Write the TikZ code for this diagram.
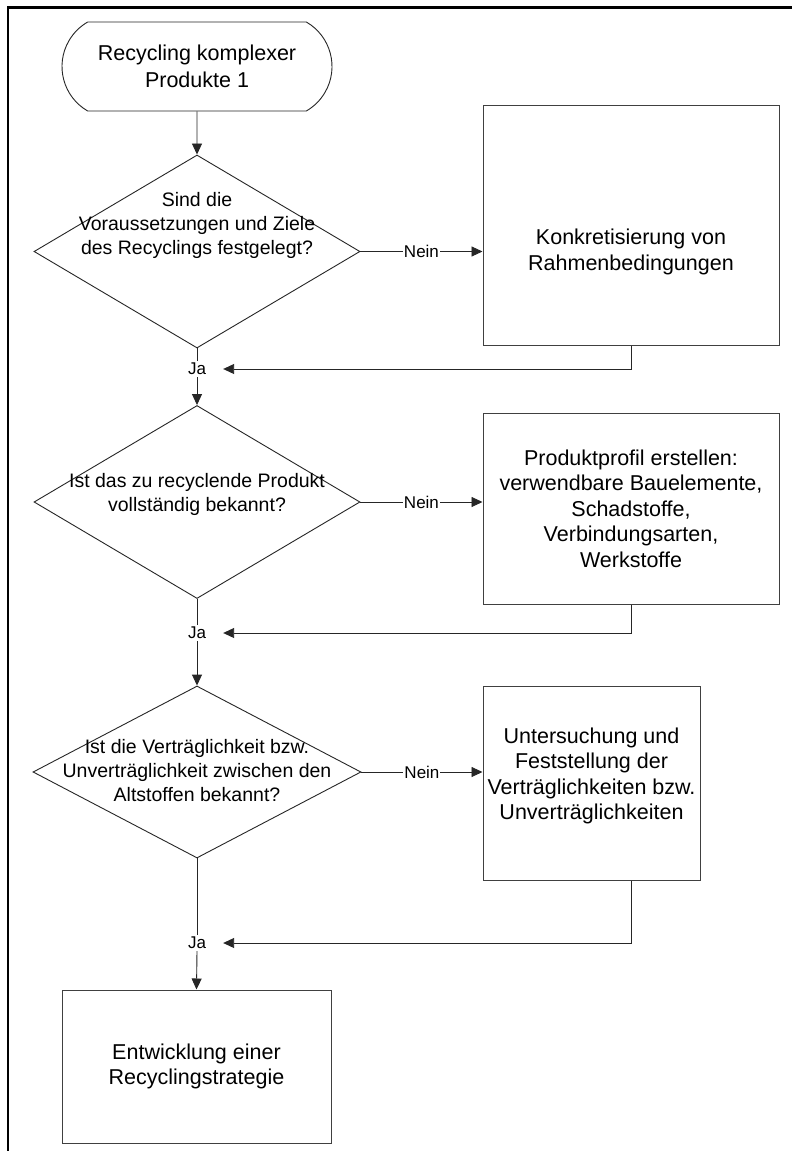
\documentclass[tikz,border=0pt]{standalone}
\usepackage{fontspec}
\setmainfont{Liberation Sans}
\usetikzlibrary{shapes.geometric,shapes.misc,arrows.meta}
\begin{document}
\begin{tikzpicture}[x=1pt,y=-1pt,
  line/.style={draw=black!85, line width=0.9pt},
  arr/.style={line, -{Triangle[length=11pt,width=10pt]}},
  box/.style={draw=black!75, line width=1pt, align=center, inner sep=0pt,
    font=\fontsize{21.5}{25.5}\selectfont},
  boxtext/.style={align=center, inner sep=0pt, font=\fontsize{21.5}{25.5}\selectfont},
  dia/.style={diamond, draw=black!85, line width=0.9pt, inner sep=0pt},
  diatext/.style={align=center, inner sep=0pt, font=\fontsize{19.5}{24}\selectfont},
  lab/.style={font=\fontsize{17}{20}\selectfont, fill=white, inner sep=1pt},
  ja/.style={font=\fontsize{17}{20}\selectfont, inner xsep=17pt, inner ysep=2pt}]
\useasboundingbox (0,0) rectangle (792,1151);
\fill[white] (0,0) rectangle (792,1151);
% frame
\draw[line width=2.4pt, black] (8,1151) -- (8,7.3) -- (792,7.3);

% terminal
\node[rounded rectangle, rounded rectangle arc length=120, draw=black!85, line width=0.9pt,
  minimum width=270pt, minimum height=89pt, align=center, inner sep=0pt,
  font=\fontsize{21.5}{27}\selectfont] (start) at (197,66.5) {Recycling komplexer\\Produkte 1};

% diamonds
\node[dia, minimum width=326pt, minimum height=193pt] (d1) at (197,251.5) {};
\node[diatext] (d1t) at (197,225) {Sind die\\Voraussetzungen und Ziele\\des Recyclings festgelegt?};

\node[dia, minimum width=326pt, minimum height=193pt] (d2) at (197,502) {};
\node[diatext] (d2t) at (197,494) {Ist das zu recyclende Produkt\\vollständig bekannt?};

\node[dia, minimum width=328pt, minimum height=172pt] (d3) at (197,772) {};
\node[diatext] (d3t) at (197,771) {Ist die Verträglichkeit bzw.\\Unverträglichkeit zwischen den\\Altstoffen bekannt?};

% boxes
\node[box, minimum width=296pt, minimum height=240pt] (b1) at (631,225) {};
\node[boxtext] (b1t) at (631,252) {Konkretisierung von\\Rahmenbedingungen};
\node[box, minimum width=296pt, minimum height=191pt] (b2) at (631,508.5) {Produktprofil erstellen:\\verwendbare Bauelemente,\\Schadstoffe,\\Verbindungsarten,\\Werkstoffe};
\node[box, minimum width=217pt, minimum height=194pt] (b3) at (591.5,783) {};
\node[boxtext] (b3t) at (591.5,776) {Untersuchung und\\Feststellung der\\Verträglichkeiten bzw.\\Unverträglichkeiten};
\node[box, minimum width=269pt, minimum height=153pt] (b4) at (196.5,1066.5) {Entwicklung einer\\Recyclingstrategie};

% Ja labels
\node[ja] (ja1) at (197,369) {Ja};
\node[ja] (ja2) at (197,633) {Ja};
\node[ja] (ja3) at (197,943) {Ja};

% connectors
\draw[arr] (start) -- (d1);
\draw[arr] (d1.east) -- node[lab]{Nein} (b1.west |- d1.east);
\draw[line] (d1.south) -- (ja1.north);
\draw[arr] (b1.south) |- (ja1.east);
\draw[arr] (ja1.south) -- (d2.north);

\draw[arr] (d2.east) -- node[lab]{Nein} (b2.west |- d2.east);
\draw[line] (d2.south) -- (ja2.north);
\draw[arr] (b2.south) |- (ja2.east);
\draw[arr] (ja2.south) -- (d3.north);

\draw[arr] (d3.east) -- node[lab]{Nein} (b3.west |- d3.east);
\draw[line] (d3.south) -- (ja3.north);
\draw[arr] ([xshift=39.5pt]b3.south) |- (ja3.east);
\draw[arr] (ja3.south) -- (b4.north);
\end{tikzpicture}
\end{document}
